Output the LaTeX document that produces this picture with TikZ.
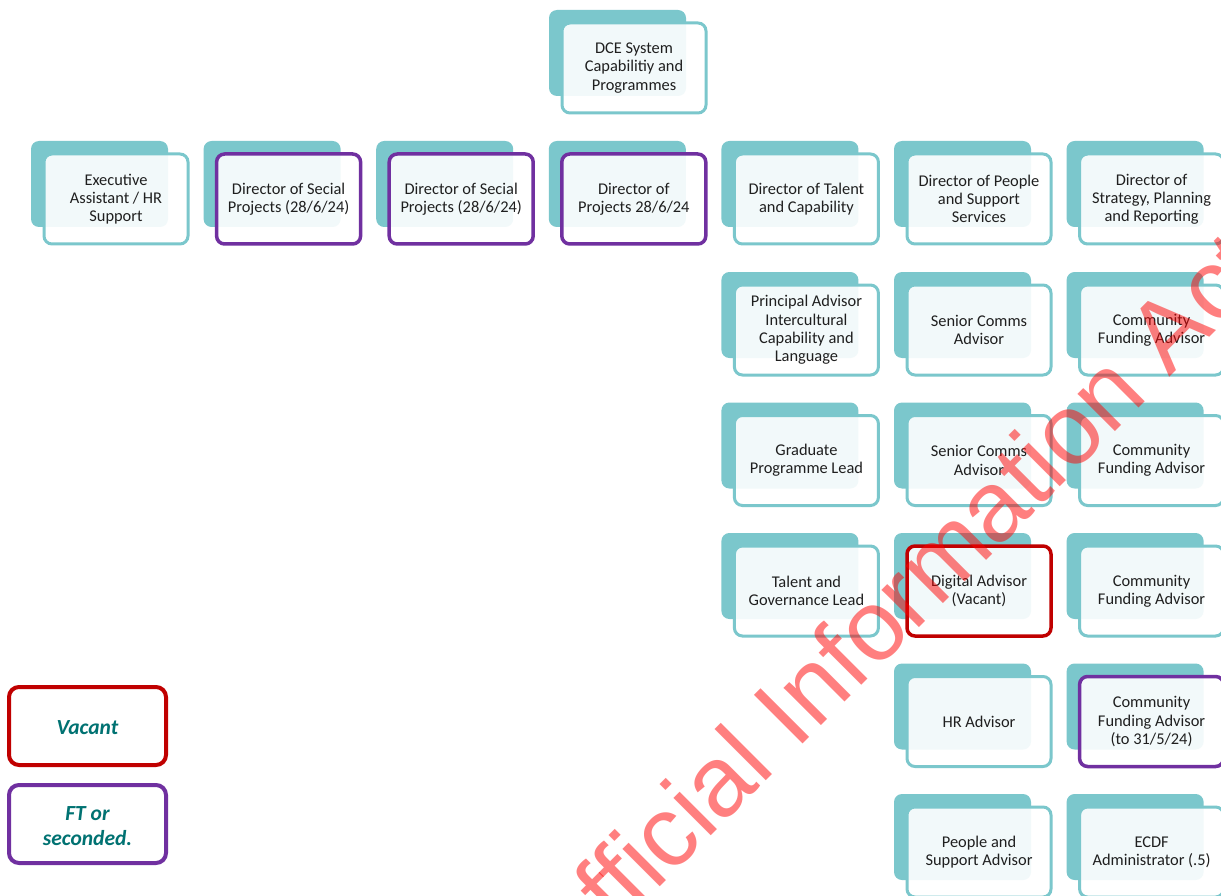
\documentclass[tikz,border=0pt]{standalone}
\usepackage{fontspec}
\setmainfont{Carlito}
\newfontfamily\wmfont{Liberation Sans}
\usetikzlibrary{calc}
\definecolor{teal1}{HTML}{7BC7CC}
\definecolor{vacred}{HTML}{C00000}
\definecolor{ftpurple}{HTML}{7030A0}
\definecolor{legteal}{HTML}{007272}
\pgfdeclarelayer{bg}
\pgfdeclarelayer{top}
\pgfsetlayers{bg,main,top}
\tikzset{
  backbox/.style={fill=teal1, draw=none, rounded corners=8pt, minimum width=137pt, minimum height=86pt, inner sep=0pt, outer sep=0pt},
  frontbox/.style={fill=white, fill opacity=0.9, text opacity=1, draw=teal1, line width=3pt, rounded corners=8pt,
     minimum width=144pt, minimum height=90pt, inner sep=0pt, outer sep=0pt, align=center, text=black!88,
     font=\fontsize{16.4pt}{18.2pt}\selectfont},
  vacant/.style={draw=vacred, line width=3.5pt},
  ftsec/.style={draw=ftpurple, line width=3.5pt},
  conn/.style={draw=teal1, line width=3.5pt},
  legbox/.style={fill=white, rounded corners=10pt, line width=4pt, minimum width=157pt, minimum height=78pt,
     inner sep=0pt, outer sep=0pt, align=center,
     text=legteal, font=\fontsize{21.5pt}{25pt}\selectfont\bfseries\itshape},
  wm/.style={text=red, text opacity=0.5, font=\wmfont\fontsize{100pt}{120pt}\selectfont, inner sep=0pt}
}
\newcommand\orgbox[5]{%
  \node[backbox, anchor=north west] (#1-b) at (#2,#3) {};
  \node[frontbox, #5, anchor=north west] (#1) at ($(#1-b.north west)+(13,13)$) {#4};
}
\newcommand\legdown[1]{\raisebox{-3.5pt}[\height][\depth]{\begin{tabular}{@{}c@{}}#1\end{tabular}}}
\begin{document}
\begin{tikzpicture}[x=1pt,y=-1pt]
\useasboundingbox (0,0) rectangle (1221,896);
\clip (0,0) rectangle (1221,896);
\fill[white] (0,0) rectangle (1221,896);
% top
\orgbox{dce}{549}{10}{DCE System\\Capabilitiy and\\Programmes}{}
% directors row
\orgbox{c0}{31}{141}{Executive\\Assistant / HR\\Support}{}
\orgbox{c1}{203.6}{141}{Director of Secial\\Projects (28/6/24)}{ftsec}
\orgbox{c2}{376.2}{141}{Director of Secial\\Projects (28/6/24)}{ftsec}
\orgbox{c3}{548.8}{141}{Director of\\Projects 28/6/24}{ftsec}
\orgbox{c4}{721.4}{141}{Director of Talent\\and Capability}{}
\orgbox{c5}{894}{141}{Director of People\\and Support\\Services}{}
\orgbox{c6}{1066.6}{141}{Director of\\Strategy, Planning\\and Reporting}{}
% talent column
\orgbox{t1}{721.4}{272}{Principal Advisor\\Intercultural\\Capability and\\Language}{}
\orgbox{t2}{721.4}{402.5}{Graduate\\Programme Lead}{}
\orgbox{t3}{721.4}{533}{Talent and\\Governance Lead}{}
% people column
\orgbox{p1}{894}{272}{Senior Comms\\Advisor}{}
\orgbox{p2}{894}{402.5}{Senior Comms\\Advisor}{}
\orgbox{p3}{894}{533}{Digital Advisor\\(Vacant)}{vacant}
\orgbox{p4}{894}{663.5}{HR Advisor}{}
\orgbox{p5}{894}{794}{People and\\Support Advisor}{}
% strategy column
\orgbox{s1}{1066.6}{272}{Community\\Funding Advisor}{}
\orgbox{s2}{1066.6}{402.5}{Community\\Funding Advisor}{}
\orgbox{s3}{1066.6}{533}{Community\\Funding Advisor}{}
\orgbox{s4}{1066.6}{663.5}{Community\\Funding Advisor\\(to 31/5/24)}{ftsec}
\orgbox{s5}{1066.6}{794}{ECDF\\Administrator (.5)}{}
% legend
\node[legbox, draw=vacred] (legv) at (87.5,726) {\legdown{Vacant}};
\node[legbox, draw=ftpurple] (legf) at (87.5,824) {\legdown{FT or\\seconded.}};
% connectors
\begin{pgfonlayer}{bg}
\coordinate (bus) at (0,126);
\draw[conn] (dce-b.south) -- (dce-b.south |- bus);
\draw[conn] (c0-b.north) -- (c0-b.north |- bus) -- (c6-b.north |- bus) -- (c6-b.north);
\foreach \c in {c1,c2,c3,c4,c5}{\draw[conn] (\c-b.north) -- (\c-b.north |- bus);}
\draw[conn] (c4-b.south) -- (t3-b.north);
\draw[conn] (c5-b.south) -- (p5-b.north);
\draw[conn] (c6-b.south) -- (s5-b.north);
\end{pgfonlayer}
% watermark
\begin{pgfonlayer}{top}
\node[wm, rotate=45, anchor=base west] (wmark) at (562,985) {Official Information Act};
\end{pgfonlayer}
\end{tikzpicture}
\end{document}
